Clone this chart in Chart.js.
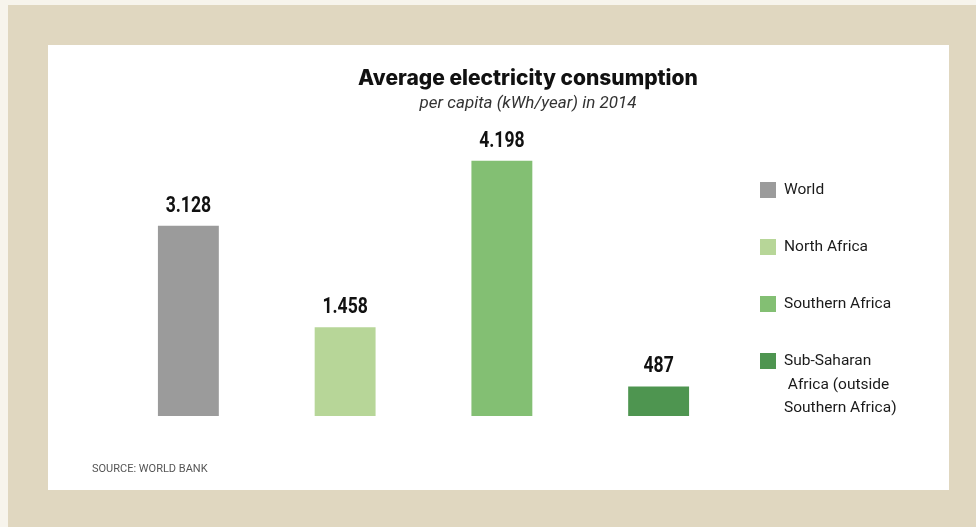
<!DOCTYPE html>
<html>
<head>
<meta charset="utf-8">
<script src="https://cdn.jsdelivr.net/npm/chart.js@4"></script>
<style>
  html, body { margin: 0; padding: 0; background: #f7f4ec; }
  #frame { position: absolute; left: 8px; top: 5px; width: 968px; height: 522px; background: #e0d7c0; }
  #card { position: absolute; left: 48px; top: 45px; width: 901px; height: 445px; background: #ffffff; }
  #wrap { position: absolute; left: 0; top: 0; width: 976px; height: 527px; }
</style>
</head>
<body>
<div id="frame"></div>
<div id="card"></div>
<div id="wrap"><canvas id="chart" width="976" height="527"></canvas></div>
<script>
// Durchschnittlicher Stromverbrauch pro Kopf 2014 (Quelle: Weltbank)
const categories = ['World', 'North Africa', 'Southern Africa', 'Sub-Saharan Africa (outside Southern Africa)'];
const legendLines = [['World'], ['North Africa'], ['Southern Africa'], ['Sub-Saharan', ' Africa (outside', 'Southern Africa)']];
const consumption = [3128, 1458, 4198, 487];

const barColors = ['#9b9b9b', '#b7d698', '#83bf73', '#4e9550'];
const FONT = 'Roboto, "Liberation Sans", sans-serif';
const TITLE_FONT = 'Inter, Roboto, sans-serif';

// Zahlen mit Punkt als Tausendertrenner, z.B. 3.128
function fmt(v) {
    return v.toLocaleString('de-DE');
}

// Zeichnet Titel, Werte über den Balken, Legende und Quelle
const overlay = {
    id: 'overlay',
    afterDatasetsDraw(chart) {
        const ctx = chart.ctx;
        ctx.save();

        // Werte über den Balken (schmal gestaucht)
        const meta = chart.getDatasetMeta(0);
        ctx.fillStyle = '#111';
        ctx.font = 'bold 22px ' + FONT;
        ctx.textAlign = 'center';
        ctx.textBaseline = 'alphabetic';
        meta.data.forEach((bar, i) => {
            ctx.save();
            ctx.translate(bar.x, bar.y - 14);
            ctx.scale(0.8, 1);
            ctx.fillText(fmt(consumption[i]), 0, 0);
            ctx.restore();
        });

        // Titel und Untertitel
        ctx.fillStyle = '#111';
        ctx.font = '800 21px ' + TITLE_FONT;
        ctx.fillText('Average electricity consumption', 528, 85);
        ctx.fillStyle = '#333';
        ctx.font = 'italic 17px ' + FONT;
        ctx.fillText('per capita (kWh/year) in 2014', 528, 108);

        // Legende rechts
        const legendTop = [182, 239, 296, 353];
        ctx.textAlign = 'left';
        ctx.textBaseline = 'middle';
        ctx.font = '15.5px ' + FONT;
        legendLines.forEach((lines, i) => {
            const y = legendTop[i];
            ctx.fillStyle = barColors[i];
            ctx.fillRect(760, y, 16, 16);
            ctx.fillStyle = '#1a1a1a';
            lines.forEach((line, j) => {
                ctx.fillText(line, 784, y + 8.5 + j * 23.5);
            });
        });

        // Quellenangabe
        ctx.fillStyle = '#555';
        ctx.font = '11px ' + FONT;
        ctx.textBaseline = 'alphabetic';
        ctx.fillText('SOURCE: WORLD BANK', 92, 471.5);

        ctx.restore();
    }
};

new Chart(document.getElementById('chart'), {
    type: 'bar',
    data: {
        labels: categories,
        datasets: [{
            label: 'kWh/year',
            data: consumption,
            backgroundColor: barColors,
            borderWidth: 0,
            barPercentage: 1,
            categoryPercentage: 61 / 157
        }]
    },
    options: {
        responsive: false,
        animation: false,
        layout: {
            padding: { left: 110, right: 239, top: 112, bottom: 111 }
        },
        scales: {
            x: { display: false },
            y: { display: false, min: 0, max: 5000 }
        },
        plugins: {
            legend: { display: false },
            tooltip: { enabled: false }
        }
    },
    plugins: [overlay]
});
</script>
</body>
</html>
